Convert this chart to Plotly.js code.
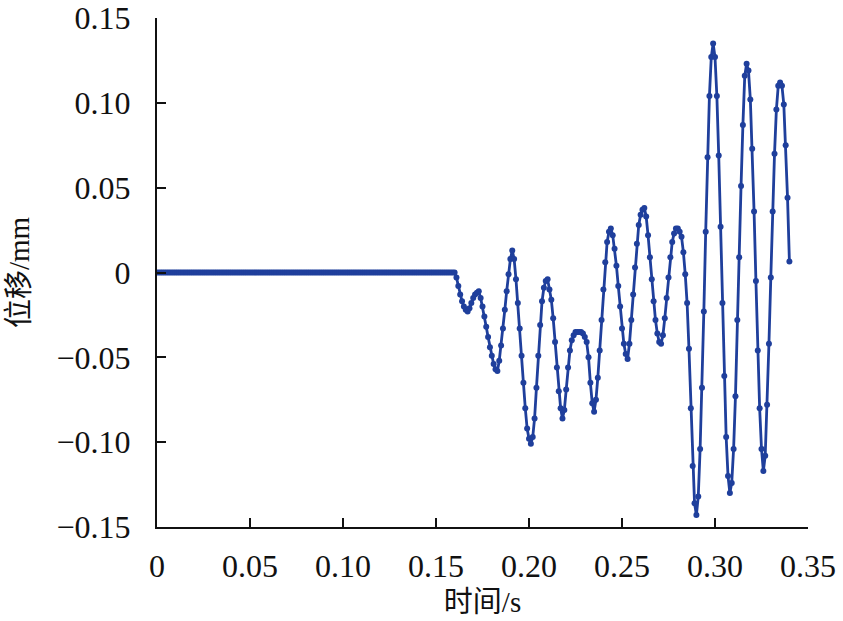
<!DOCTYPE html>
<html>
<head>
<meta charset="utf-8">
<script src="https://cdn.plot.ly/plotly-3.0.1.min.js"></script>
<style>html,body{margin:0;padding:0;background:#fff;}#chart{width:843px;height:621px;}</style>
</head>
<body>
<div id="chart"></div>
<script>
// Sampling step of the record (s)
const sampleStep = 0.001;

// Displacement (mm), quiet part 0.000–0.159 s
const dispQuiet = [
  0,0,0,0,0,0,0,0,0,0, 0,0,0,0,0,0,0,0,0,0,
  0,0,0,0,0,0,0,0,0,0, 0,0,0,0,0,0,0,0,0,0,
  0,0,0,0,0,0,0,0,0,0, 0,0,0,0,0,0,0,0,0,0,
  0,0,0,0,0,0,0,0,0,0, 0,0,0,0,0,0,0,0,0,0,
  0,0,0,0,0,0,0,0,0,0, 0,0,0,0,0,0,0,0,0,0,
  0,0,0,0,0,0,0,0,0,0, 0,0,0,0,0,0,0,0,0,0,
  0,0,0,0,0,0,0,0,0,0, 0,0,0,0,0,0,0,0,0,0,
  0,0,0,0,0,0,0,0,0,0, 0,0,0,0,0,0,0,0,0,0
];

// Displacement (mm), active part 0.160–0.340 s
const dispActive = [
  0, -0.003, -0.008, -0.013, -0.017, -0.020, -0.022, -0.023, -0.021, -0.018,
  -0.015, -0.013, -0.012, -0.011, -0.015, -0.020, -0.026, -0.032, -0.038, -0.044,
  -0.049, -0.054, -0.057, -0.058, -0.052, -0.043, -0.033, -0.022, -0.011, -0.001,
  0.008, 0.013, 0.008, -0.004, -0.018, -0.033, -0.049, -0.065, -0.080, -0.092,
  -0.098, -0.101, -0.097, -0.086, -0.068, -0.049, -0.031, -0.017, -0.009, -0.005,
  -0.004, -0.010, -0.016, -0.027, -0.041, -0.056, -0.070, -0.080, -0.086, -0.081,
  -0.069, -0.056, -0.046, -0.040, -0.037, -0.035, -0.035, -0.035, -0.035, -0.036,
  -0.038, -0.041, -0.050, -0.065, -0.077, -0.082, -0.075, -0.062, -0.046, -0.028,
  -0.010, 0.006, 0.018, 0.024, 0.026, 0.022, 0.014, 0.004, -0.008, -0.020,
  -0.033, -0.042, -0.048, -0.051, -0.042, -0.028, -0.013, 0.003, 0.017, 0.028,
  0.034, 0.037, 0.038, 0.033, 0.022, 0.009, -0.004, -0.017, -0.028, -0.036,
  -0.041, -0.042, -0.037, -0.027, -0.015, -0.003, 0.009, 0.018, 0.023, 0.026,
  0.026, 0.024, 0.021, 0.012, -0.001, -0.018, -0.045, -0.080, -0.114, -0.136,
  -0.143, -0.132, -0.104, -0.068, -0.023, 0.024, 0.068, 0.104, 0.127, 0.135,
  0.127, 0.104, 0.069, 0.027, -0.018, -0.061, -0.097, -0.120, -0.130, -0.124,
  -0.104, -0.073, -0.028, 0.009, 0.051, 0.087, 0.116, 0.123, 0.119, 0.102,
  0.073, 0.036, -0.005, -0.046, -0.080, -0.104, -0.117, -0.108, -0.078, -0.042,
  -0.003, 0.036, 0.070, 0.096, 0.110, 0.112, 0.110, 0.099, 0.075, 0.044,
  0.0065
];

// Tick labels
const xTickVals = [0, 0.05, 0.10, 0.15, 0.20, 0.25, 0.30, 0.35];
const xTickText = ["0", "0.05", "0.10", "0.15", "0.20", "0.25", "0.30", "0.35"];
const yTickVals = [-0.15, -0.10, -0.05, 0, 0.05, 0.10, 0.15];
const yTickText = ["\u22120.15", "\u22120.10", "\u22120.05", "0", "0.05", "0.10", "0.15"];

const xTitle = "时间/s";
const yTitle = "位移/mm";

const disp = dispQuiet.concat(dispActive);
const time = disp.map((_, i) => +(i * sampleStep).toFixed(4));

const serif = "Liberation Serif, Noto Sans CJK SC, serif";
const blue = "#1f3f9c";

const trace = {
  x: time,
  y: disp,
  type: "scatter",
  mode: "lines+markers",
  line: {color: blue, width: 2.8},
  marker: {color: blue, size: 6},
  hoverinfo: "skip",
  showlegend: false
};

const layout = {
  width: 843,
  height: 621,
  margin: {l: 157, r: 35, t: 18, b: 94},
  paper_bgcolor: "#ffffff",
  plot_bgcolor: "#ffffff",
  font: {family: serif, color: "#111111", size: 32},
  xaxis: {
    range: [0, 0.35],
    tickvals: xTickVals,
    ticktext: xTickText,
    ticks: "inside",
    ticklen: 9,
    tickwidth: 2,
    tickcolor: "#111111",
    showline: true,
    linecolor: "#111111",
    linewidth: 2,
    showgrid: false,
    zeroline: false,
    tickfont: {family: serif, size: 32, color: "#111111"},
    ticklabelstandoff: 10,
    title: {text: xTitle, font: {family: serif, size: 29, color: "#111111"}, standoff: 8}
  },
  yaxis: {
    range: [-0.15, 0.15],
    tickvals: yTickVals,
    ticktext: yTickText,
    ticks: "inside",
    ticklen: 9,
    tickwidth: 2,
    tickcolor: "#111111",
    showline: true,
    linecolor: "#111111",
    linewidth: 2,
    showgrid: false,
    zeroline: false,
    tickfont: {family: serif, size: 32, color: "#111111"},
    ticklabelstandoff: 18,
    title: {text: yTitle, font: {family: serif, size: 29, color: "#111111"}, standoff: 18}
  }
};

Plotly.newPlot("chart", [trace], layout, {staticPlot: true, displayModeBar: false});
</script>
</body>
</html>
